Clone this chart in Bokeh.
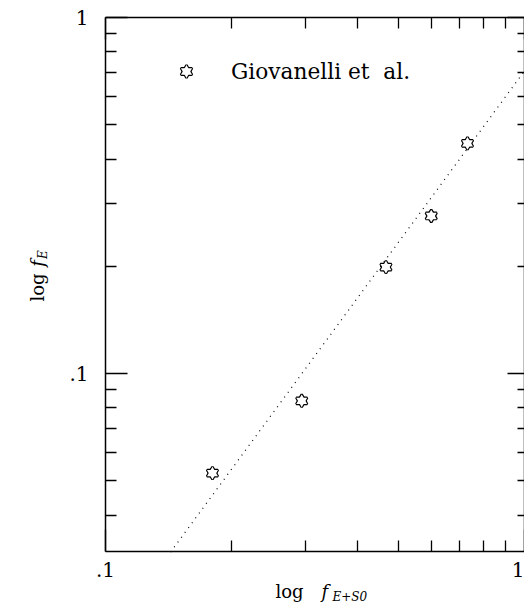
import math
from bokeh.plotting import figure
from bokeh.models import (Range1d, LogAxis, FixedTicker, Legend, LegendItem,
                          Label, ColumnDataSource)
from bokeh.embed import file_html
from bokeh.resources import INLINE

# ---- data ----
f_es0 = [0.180, 0.294, 0.467, 0.599, 0.731]      # x: f_{E+S0}
f_e = [0.0525, 0.0838, 0.199, 0.277, 0.443]      # y: f_E
fit_x = [0.143, 1.0]                             # dotted fit line ends
fit_y = [0.0315, 0.708]
series_label = "Giovanelli et  al."
x_lim = (0.1, 1.0)
y_lim = (10 ** -1.5, 1.0)
major_ticks = [0.1, 1.0]
x_minor_ticks = [0.2, 0.3, 0.4, 0.5, 0.6, 0.7, 0.8, 0.9]
y_minor_ticks = [0.04, 0.05, 0.06, 0.07, 0.08, 0.09,
                 0.2, 0.3, 0.4, 0.5, 0.6, 0.7, 0.8, 0.9]
tick_labels = {0.1: ".1", 1.0: "1"}

SERIF = "DejaVu Serif"

# page geometry (pixels): the box drawn by the four axes
W, H = 524, 606
FL, FT, FB = 105, 17, 551
XDEC = (W - FL) / math.log10(x_lim[1] / x_lim[0])        # px per decade
YDEC = (FB - FT) / math.log10(y_lim[1] / y_lim[0])
x_view = (x_lim[0] * 10 ** (-FL / XDEC), x_lim[1])
y_view = (y_lim[0] * 10 ** (-(H - FB) / YDEC), y_lim[1] * 10 ** (FT / YDEC))

p = figure(width=W, height=H, x_axis_type="log", y_axis_type="log",
           x_range=Range1d(*x_view), y_range=Range1d(*y_view),
           output_backend="svg", toolbar_location=None, title=None,
           min_border=0, min_border_left=0, min_border_right=0,
           min_border_top=0, min_border_bottom=0)
p.grid.visible = False
p.outline_line_color = None
p.background_fill_color = "white"
p.border_fill_color = "white"

p.add_layout(LogAxis(), "right")
p.add_layout(LogAxis(), "above")


def style(ax, loc, bounds, minors, major_in, minor_in, labels, standoff):
    ax.fixed_location = loc
    ax.bounds = bounds
    ax.ticker = FixedTicker(ticks=major_ticks, minor_ticks=minors)
    ax.axis_line_color = "black"
    ax.axis_line_width = 1.5
    ax.major_tick_in = major_in
    ax.major_tick_out = 0
    ax.minor_tick_in = minor_in
    ax.minor_tick_out = 0
    ax.major_tick_line_color = "black"
    ax.minor_tick_line_color = "black"
    ax.major_tick_line_width = 1.3
    ax.minor_tick_line_width = 1.3
    ax.major_label_overrides = tick_labels
    ax.major_label_text_font = SERIF
    ax.major_label_text_font_size = "20px"
    ax.major_label_standoff = standoff
    ax.major_label_text_color = "black"
    if not labels:
        ax.major_label_text_alpha = 0


for ax in p.below:
    style(ax, y_lim[0], x_lim, x_minor_ticks, 22, 11, True, 10)
for ax in p.left:
    style(ax, x_lim[0], y_lim, y_minor_ticks, 22, 11, True, 17)
for ax in p.above:
    style(ax, y_lim[1], x_lim, x_minor_ticks, 22, 11, False, 0)
for ax in p.right:
    style(ax, x_lim[1], y_lim, y_minor_ticks, 17, 7, False, 0)

# dotted fit
p.line(fit_x, fit_y, line_color="black", line_width=1.2, line_dash="1 5")

# hexagram markers: two triangle outlines, white interiors laid over them
src = ColumnDataSource(dict(x=f_es0, y=f_e))
MS = 11
r1 = p.scatter("x", "y", source=src, marker="triangle", size=MS,
               fill_color=None, line_color="black", line_width=2.4)
r2 = p.scatter("x", "y", source=src, marker="inverted_triangle", size=MS,
               fill_color=None, line_color="black", line_width=2.4)
r3 = p.scatter("x", "y", source=src, marker="triangle", size=MS,
               fill_color="white", line_color=None)
r4 = p.scatter("x", "y", source=src, marker="inverted_triangle", size=MS,
               fill_color="white", line_color=None)

legend = Legend(items=[LegendItem(label=series_label, renderers=[r1, r2, r3, r4])],
                location=(172, H - 85), orientation="vertical",
                border_line_color=None, background_fill_alpha=0,
                padding=0, margin=0, spacing=0,
                glyph_width=28, glyph_height=28, label_standoff=31,
                label_text_font=SERIF, label_text_font_size="21.7px",
                label_text_color="black")
p.add_layout(legend)


def put(text, X, Y, size, style_="normal", angle=0.0, align="left"):
    # X, Y are page pixels from the top-left; screen y runs upward
    p.add_layout(Label(x=X, y=H - Y, x_units="screen", y_units="screen",
                       text=text, text_font=SERIF, text_font_size=size,
                       text_font_style=style_, text_color="black",
                       text_align=align, text_baseline="alphabetic",
                       angle=angle))


# x axis title: log f_{E+S0}
put("log", 275, 591, "18px")
put("f", 321, 591, "18px", "italic")
put("E+S0", 332, 596, "12px", "italic")

# y axis title: log f_E (rotated, anchored at the centre of each piece)
put("log", 37, 287, "18px", angle=math.pi / 2, align="center")
put("f", 37, 263, "18px", "italic", angle=math.pi / 2, align="center")
put("E", 42, 254, "12px", "italic", angle=math.pi / 2, align="center")

open("out.html", "w").write(file_html(p, INLINE))
